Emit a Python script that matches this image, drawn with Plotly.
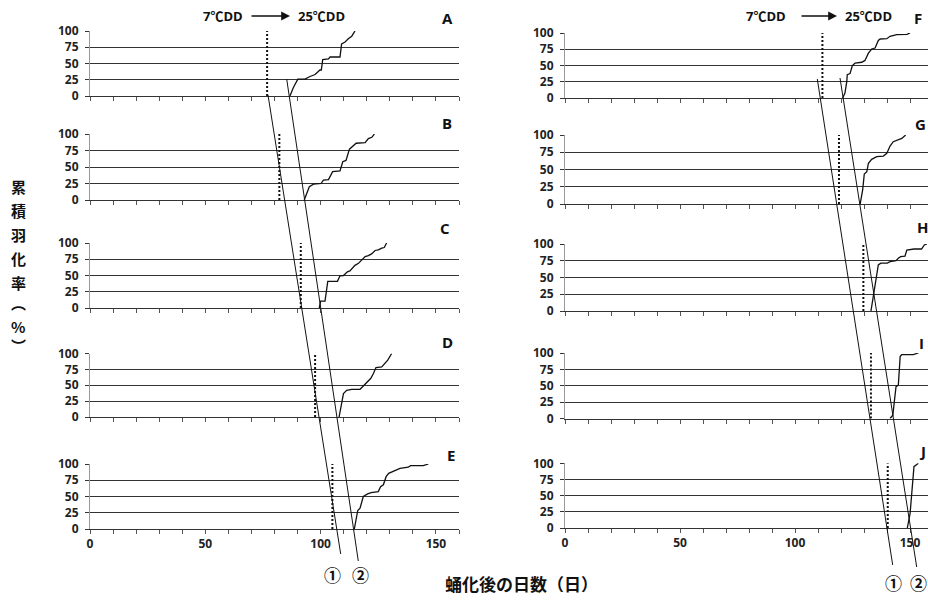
import plotly.graph_objects as go

W, H = 928, 601

# ---------------- data ----------------
panel_labels = ["A", "B", "C", "D", "E", "F", "G", "H", "I", "J"]

A_days = [86.7, 88.2, 90.1, 93.2, 95.4, 97.6, 99.7, 100.3, 100.9, 103.4, 104.1, 108.4, 109.1, 110.6, 112.0, 113.5, 114.9]
A_pct = [0, 13, 26, 26, 30, 33, 40, 40, 56, 57, 60, 60, 80, 83, 88, 92, 100]

B_days = [92.9, 95.1, 96.9, 100.2, 101.2, 103.4, 105.2, 108.4, 109.6, 111.0, 112.5, 113.5, 115.4, 119.3, 120.7, 122.2, 123.3]
B_pct = [0, 20, 24, 25, 30, 31, 43, 44, 58, 60, 77, 80, 86, 87, 93, 95, 100]

C_days = [99.4, 100.0, 101.9, 103.1, 107.3, 108.4, 109.9, 111.6, 112.7, 114.9, 116.4, 117.8, 119.3, 120.7, 122.1, 123.6, 125.0, 126.5, 127.6, 128.6]
C_pct = [0, 10.5, 10.5, 41, 41, 49.5, 50, 55.7, 57, 65.6, 68.7, 74, 79, 80.7, 83.3, 88.5, 89.5, 92.2, 93, 100]

D_days = [108.0, 109.9, 111.3, 113.5, 117.1, 118.8, 120.3, 121.7, 122.9, 124.0, 126.5, 127.9, 129.1, 130.8]
D_pct = [0, 36.8, 42, 43.6, 43.6, 50, 56.8, 60.5, 68.5, 77.9, 79, 84.2, 89.5, 100]

E_days = [114.6, 116.1, 117.1, 118.5, 120.4, 121.9, 125.0, 126.0, 127.2, 128.4, 129.5, 131.5, 133.0, 134.4, 138.0, 139.0, 144.5, 146.7]
E_pct = [0, 28.5, 32, 50, 54, 56, 57.6, 65, 68, 80.5, 85.6, 89, 90.5, 93.4, 95, 97.5, 97.5, 100]

F_days = [120.7, 121.7, 122.5, 122.7, 123.9, 124.9, 126.1, 129.0, 130.4, 131.9, 133.3, 134.8, 136.2, 137.0, 139.9, 141.3, 144.2, 148.6, 150.0]
F_pct = [0, 7.7, 25.6, 35.8, 37.5, 49.7, 53.8, 55, 57.8, 69, 75.4, 76.9, 88.6, 90.8, 91.3, 94.9, 97.4, 98, 100]

G_days = [128.3, 129.4, 130.1, 131.2, 131.9, 133.3, 135.5, 138.4, 139.9, 141.3, 142.7, 144.9, 146.4, 148.1]
G_pct = [0, 20.3, 43.5, 46.9, 59, 64.7, 68.6, 69.5, 73.4, 84, 90.3, 92.7, 95, 100]

H_days = [133.0, 134.0, 135.2, 136.2, 137.3, 140.1, 141.3, 143.9, 144.9, 145.9, 147.8, 148.6, 151.7, 155.0, 156.2, 157.3]
H_pct = [0, 21.4, 46, 68.7, 71.4, 71.4, 73.6, 75, 78.6, 81, 82, 91, 92.5, 92.5, 98.5, 100]

I_days = [141.3, 142.5, 143.9, 144.9, 145.7, 146.4, 151.4, 153.6]
I_pct = [0, 5, 48.6, 51, 94.9, 97.4, 97.4, 100]

J_days = [148.8, 150.0, 151.7, 152.6, 153.6]
J_pct = [0, 22, 94.8, 97, 100]

# day at which 7°C cumulative degree-days is reached (dotted lines)
cdd7_days = [76.8, 82.1, 91.4, 97.6, 105.1, 111.9, 119.1, 129.7, 133.0, 140.3]

x_tickvals = list(range(0, 161, 10))
x_ticktext = [str(v) if v % 50 == 0 else "" for v in x_tickvals]
y_tickvals = [0, 25, 50, 75, 100]
y_ticktext = ["0", "25", "50", "75", "100"]

series_days = [A_days, B_days, C_days, D_days, E_days, F_days, G_days, H_days, I_days, J_days]
series_pct = [A_pct, B_pct, C_pct, D_pct, E_pct, F_pct, G_pct, H_pct, I_pct, J_pct]

# ---------------- layout geometry (pixels) ----------------
col_x = [(90, 459), (565, 928)]
col_range = [[0, 160], [0, 157.8]]
rows_px = [
    [(31, 96), (134, 200), (243, 308), (353.5, 417), (464, 529)],
    [(33, 98), (135, 204), (244, 311), (353, 418.5), (463.3, 528)],
]

def px(x):
    return x / W

def py(y):
    return 1 - y / H

TICKFONT = dict(family="Open Sans", size=12, color="#222", weight="bold")

fig = go.Figure()
layout = dict(
    width=W, height=H,
    margin=dict(l=0, r=0, t=0, b=0, pad=0, autoexpand=False),
    paper_bgcolor="white", plot_bgcolor="white",
    showlegend=False,
)

annotations = []
for i in range(10):
    col = 0 if i < 5 else 1
    row = i % 5
    n = i + 1
    xk = "xaxis" if n == 1 else f"xaxis{n}"
    yk = "yaxis" if n == 1 else f"yaxis{n}"
    xr = "x" if n == 1 else f"x{n}"
    yr = "y" if n == 1 else f"y{n}"
    top, bot = rows_px[col][row]
    layout[xk] = dict(
        domain=[px(col_x[col][0]), px(col_x[col][1])],
        anchor=yr, range=col_range[col],
        tickvals=x_tickvals, ticktext=x_ticktext,
        showticklabels=(row == 4),
        ticks="outside", ticklen=4, tickcolor="#555", tickwidth=1,
        showline=True, linecolor="#333", linewidth=1,
        showgrid=False, zeroline=False, tickfont=TICKFONT,
        automargin=False, fixedrange=True,
    )
    layout[yk] = dict(
        domain=[py(bot), py(top)],
        anchor=xr, range=[0, 100],
        tickvals=y_tickvals, ticktext=y_ticktext,
        ticks="outside", ticklen=4, tickcolor="#333", tickwidth=1,
        showline=True, linecolor="#999", linewidth=1,
        showgrid=True, gridcolor="#333", gridwidth=1,
        zeroline=False, tickfont=TICKFONT, ticklabelstandoff=4,
        automargin=False, fixedrange=True,
    )
    fig.add_trace(go.Scatter(
        x=[cdd7_days[i], cdd7_days[i]], y=[0, 100], xaxis=xr, yaxis=yr,
        mode="lines", line=dict(color="#111", width=2, dash="2px,2px"),
        hoverinfo="skip",
    ))
    fig.add_trace(go.Scatter(
        x=series_days[i], y=series_pct[i], xaxis=xr, yaxis=yr,
        mode="lines", line=dict(color="#111", width=1.3),
        hoverinfo="skip",
    ))

# panel letters
letter_pos = [(447, 18), (447, 123), (445, 228), (447, 342), (451, 455),
              (918, 18), (920, 124), (922, 227), (921, 343), (922, 451)]
for lab, (lx, ly) in zip(panel_labels, letter_pos):
    annotations.append(dict(xref="paper", yref="paper", x=px(lx), y=py(ly),
                            text=lab, showarrow=False, xanchor="center", yanchor="middle",
                            font=dict(family="Open Sans", size=15, color="#111", weight="bold")))

# 7℃DD -> 25℃DD headers
HDR = dict(family="Open Sans, Noto Sans CJK JP", size=13, color="#111", weight="bold")
for x7, xa0, xa1, x25 in [(223, 250, 290, 321), (766, 800, 837, 868)]:
    annotations.append(dict(xref="paper", yref="paper", x=px(x7), y=py(16), text="7℃DD",
                            showarrow=False, xanchor="center", yanchor="middle", font=HDR))
    annotations.append(dict(xref="paper", yref="paper", x=px(x25), y=py(16), text="25℃DD",
                            showarrow=False, xanchor="center", yanchor="middle", font=HDR))
    annotations.append(dict(xref="paper", yref="paper", x=px(xa1), y=py(16), text="",
                            showarrow=True, ax=xa0 - xa1, ay=0, arrowhead=2, arrowsize=1.1,
                            arrowwidth=1.6, arrowcolor="#111"))

# y-axis title (vertical, one glyph per line)
ychars = ["累", "積", "羽", "化", "率", "︵", "%", "︶"]
yys = [187, 210, 234, 258, 282, 302, 326, 345]
for ch, yy in zip(ychars, yys):
    annotations.append(dict(xref="paper", yref="paper", x=px(18), y=py(yy), text=ch,
                            showarrow=False, xanchor="center", yanchor="middle",
                            font=dict(family="Noto Sans CJK JP", size=15, color="#111", weight="bold")))

# x-axis title
annotations.append(dict(xref="paper", yref="paper", x=px(521), y=py(583), text="蛹化後の日数（日）",
                        showarrow=False, xanchor="center", yanchor="middle",
                        font=dict(family="Noto Sans CJK JP", size=17, color="#111", weight="bold")))

# circled markers for the guide lines
for txt, (cx, cy) in zip(["①", "②", "①", "②"], [(332, 574), (360, 574), (893, 582), (918, 582)]):
    annotations.append(dict(xref="paper", yref="paper", x=px(cx), y=py(cy), text=txt,
                            showarrow=False, xanchor="center", yanchor="middle",
                            font=dict(family="Noto Sans CJK JP", size=17, color="#111", weight="bold")))

# guide lines ① and ② spanning panels
guides = [((268, 95), (340.7, 554)), ((286.7, 79), (358.3, 561)),
          ((817.3, 79), (892.7, 565)), ((840, 78), (916.7, 567))]
shapes = []
for (x0, y0), (x1, y1) in guides:
    shapes.append(dict(type="line", xref="paper", yref="paper",
                       x0=px(x0), y0=py(y0), x1=px(x1), y1=py(y1),
                       line=dict(color="#111", width=1)))

layout["annotations"] = annotations
layout["shapes"] = shapes
fig.update_layout(**layout)
fig.write_html("out.html")
